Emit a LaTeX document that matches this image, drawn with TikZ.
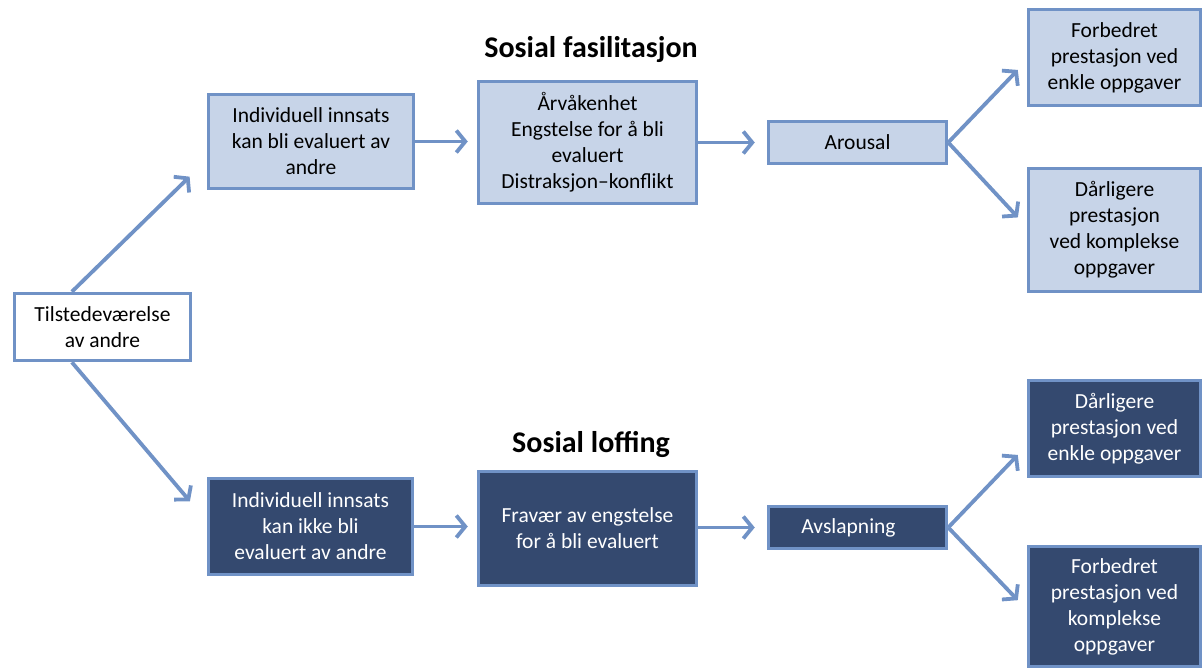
\documentclass[tikz,border=0pt]{standalone}
\usepackage{fontspec}
\setmainfont{Carlito}
\usetikzlibrary{arrows.meta}

\definecolor{edgeblue}{RGB}{112,146,198}
\definecolor{lightfill}{RGB}{199,212,232}
\definecolor{darkfill}{RGB}{52,73,111}

\begin{document}
\begin{tikzpicture}[
    x=1pt, y=1pt,
    box/.style={draw=edgeblue, line width=3.5pt, align=center, inner sep=0pt,
        font=\fontsize{21.5}{26}\selectfont},
    lightbox/.style={box, fill=lightfill, text=black},
    darkbox/.style={box, fill=darkfill, text=white},
    startbox/.style={box, fill=white, text=black},
    heading/.style={font=\fontsize{30}{34}\selectfont\bfseries},
    arrow/.style={-{Straight Barb[length=9pt, width=22pt]}, line width=3.8pt, edgeblue},
]
    \path[use as bounding box, clip] (0,0) rectangle (1203,-668);

    % --- start ---
    \node[startbox, minimum width=176pt, minimum height=67pt] (presence) at (102.5,-327) {Tilstedeværelse\\av andre};

    % ==========================================
    % Upper row: Sosial fasilitasjon
    % ==========================================
    \node[heading] (title_fac) at (591,-50) {Sosial fasilitasjon};

    \node[lightbox, minimum width=205pt, minimum height=94pt] (eval_yes) at (311,-141.5)
        {Individuell innsats\\kan bli evaluert av\\andre};
    \node[lightbox, minimum width=218pt, minimum height=122pt] (arousal_src) at (587.5,-142.5)
        {Årvåkenhet\\Engstelse for å bli\\evaluert\\Distraksjon–konflikt};
    \node[lightbox, minimum width=178pt, minimum height=42pt] (arousal) at (857.5,-142.5) {Arousal};
    \node[lightbox, minimum width=172pt, minimum height=96pt] (better_simple) at (1114.5,-57.5)
        {Forbedret\\prestasjon ved\\enkle oppgaver};
    \node[lightbox, minimum width=172pt, minimum height=123pt] (worse_complex) at (1114.5,-230)
        {Dårligere\\prestasjon\\ved komplekse\\oppgaver};

    % ==========================================
    % Lower row: Sosial loffing
    % ==========================================
    \node[heading] (title_loaf) at (591,-444) {Sosial loffing};

    \node[darkbox, minimum width=204pt, minimum height=96pt] (eval_no) at (310.5,-526.5)
        {Individuell innsats\\kan ikke bli\\evaluert av andre};
    \node[darkbox, minimum width=218pt, minimum height=114pt] (no_anxiety) at (587.5,-528.5)
        {Fravær av engstelse\\for å bli evaluert};
    \node[darkbox, minimum width=178pt, minimum height=42pt] (relax) at (857.5,-527.5)
        {Avslapning\hspace*{18pt}};
    \node[darkbox, minimum width=172pt, minimum height=96pt] (worse_simple) at (1114.5,-428.5)
        {Dårligere\\prestasjon ved\\enkle oppgaver};
    \node[darkbox, minimum width=172pt, minimum height=120pt] (better_complex) at (1114.5,-606.5)
        {Forbedret\\prestasjon ved\\komplekse\\oppgaver};

    % --- connectors ---
    \draw[arrow, shorten >=24pt] (presence.131) -- (eval_yes.190);
    \draw[arrow, shorten >=26pt] (presence.229) -- (eval_no.177);

    \draw[arrow, shorten >=9pt] (eval_yes.east) -- (arousal_src.west |- eval_yes.east);
    \draw[arrow, shorten >=12pt] (arousal_src.east) -- (arousal.west);
    \draw[arrow, shorten >=13pt] (arousal.east) -- (better_simple.182);
    \draw[arrow, shorten >=13pt] (arousal.east) -- (worse_complex.178);

    \draw[arrow, shorten >=9pt] (eval_no.east) -- (no_anxiety.west |- eval_no.east);
    \draw[arrow, shorten >=12pt] (no_anxiety.east |- relax.west) -- (relax.west);
    \draw[arrow, shorten >=13pt] (relax.east) -- (worse_simple.191);
    \draw[arrow, shorten >=13pt] (relax.east) -- (better_complex.182);

\end{tikzpicture}
\end{document}
